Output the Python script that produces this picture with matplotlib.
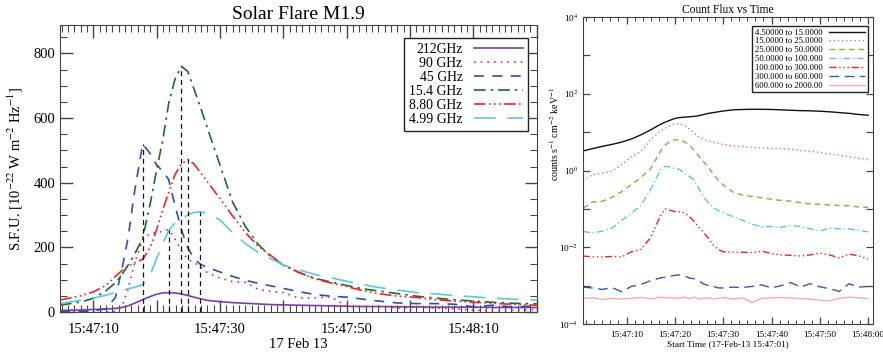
import matplotlib
matplotlib.use('Agg')
import matplotlib.pyplot as plt
from matplotlib.ticker import MultipleLocator, FuncFormatter, LogLocator, NullLocator, AutoMinorLocator
import numpy as np

plt.rcParams['font.family'] = ['Liberation Serif', 'DejaVu Serif']
plt.rcParams['mathtext.fontset'] = 'stix'

# ---- left panel: radio flux (seconds after 15:47:00) ----
t_radio = [4.75, 8, 10, 12, 13.5, 14.5, 15.5, 16.5, 17.8, 19, 20, 21, 21.9, 22.9, 23.9,
           24.9, 25.9, 26.9, 28, 30, 32, 34, 36, 38, 40, 42.5, 45, 47.5, 50, 52.5,
           55, 58, 61, 64, 67, 70, 73, 76, 80]
f212 = [5, 6, 8, 9, 11, 14, 19, 27, 38, 48, 55, 59, 60, 59, 56, 51, 46, 41, 36, 32,
        29, 27, 25, 23, 22, 21, 20, 19, 18, 17, 17, 16, 16, 15, 15, 15, 14, 14, 14]
f90 = [2, 1, 0, 0, 2, 16, 70, 150, 225, 243, 245, 250, 255, 225, 190, 163, 153, 140, 122, 105,
       94, 92, 70, 64, 60, 43, 44, 47, 18, 15, 18, 12, 15, 12, 10, 6, 3, 5, 8]
f45 = [2, 2, 3, 10, 45, 130, 230, 370, 520, 490, 455, 435, 410, 330, 255, 200, 165, 148, 138, 124,
       110, 98, 89, 81, 73, 63, 54, 49, 46, 40, 34, 28, 26, 26, 24, 16, 21, 16, 18]
f154 = [21, 31, 42, 66, 90, 115, 145, 178, 228, 336, 439, 535, 645, 720, 760, 745, 690, 635, 570, 455,
        340, 265, 210, 172, 145, 122, 104, 93, 82, 72, 65, 57, 49, 43, 38, 34, 30, 27, 25]
f880 = [37, 50, 62, 82, 110, 128, 142, 152, 163, 200, 255, 318, 370, 425, 458, 472, 458, 432, 403, 351,
        297, 246, 204, 175, 145, 122, 102, 90, 79, 66, 57, 49, 45, 38, 34, 30, 27, 24, 21]
f499 = [26, 36, 43, 52, 61, 66, 72, 76, 85, 115, 165, 212, 252, 275, 287, 300, 308, 310, 305, 285,
        245, 212, 185, 165, 146, 130, 116, 106, 95, 85, 76, 68, 60, 56, 51, 47, 43, 40, 37]
radio_labels = ['212GHz', '90 GHz', '45 GHz', '15.4 GHz', '8.80 GHz', '4.99 GHz']

# ---- right panel: count flux, log10 values (seconds after 15:47:00) ----
t_cnt = [1, 3, 5, 7, 9, 11, 13, 15, 17, 18, 19, 20, 21, 22, 23, 24, 25, 26, 27, 28, 29, 30,
         32, 34, 36, 38, 40, 42, 44, 46, 48, 50, 52, 54, 56, 58, 60]
c1 = [0.51, 0.57, 0.63, 0.68, 0.74, 0.82, 0.93, 1.06, 1.2, 1.26, 1.31, 1.355, 1.38, 1.39, 1.40, 1.41,
      1.43, 1.46, 1.49, 1.51, 1.53, 1.55, 1.58, 1.59, 1.595, 1.595, 1.59, 1.58, 1.57, 1.56, 1.555,
      1.545, 1.53, 1.51, 1.49, 1.46, 1.44]
c2 = [-0.26, -0.11, -0.07, -0.02, 0.15, 0.36, 0.5, 0.8, 1.03, 1.1, 1.17, 1.21, 1.22, 1.17, 1.08, 0.97,
      0.88, 0.81, 0.77, 0.74, 0.71, 0.68, 0.64, 0.62, 0.6, 0.585, 0.58, 0.57, 0.55, 0.52, 0.5,
      0.47, 0.43, 0.4, 0.36, 0.32, 0.28]
c3 = [-0.98, -0.82, -0.8, -0.7, -0.55, -0.37, -0.18, 0.05, 0.5, 0.66, 0.76, 0.8, 0.8, 0.75, 0.66, 0.52,
      0.37, 0.22, 0.07, -0.1, -0.25, -0.38, -0.56, -0.64, -0.68, -0.71, -0.75, -0.78, -0.8, -0.84,
      -0.87, -0.88, -0.9, -0.91, -0.92, -0.95, -0.96]
c4 = [-1.59, -1.625, -1.58, -1.5, -1.3, -1.12, -0.9, -0.5, 0.02, 0.11, 0.09, 0.05, 0.03, -0.08, -0.15,
      -0.25, -0.48, -0.7, -0.85, -0.97, -1.05, -1.1, -1.2, -1.3, -1.4, -1.47, -1.46, -1.48, -1.44,
      -1.46, -1.52, -1.58, -1.5, -1.52, -1.52, -1.56, -1.6]
c5 = [-2.23, -2.25, -2.25, -2.24, -2.25, -2.12, -2.05, -1.75, -1.18, -1.0, -1.04, -1.07, -1.08, -1.1,
      -1.2, -1.33, -1.48, -1.62, -1.78, -1.95, -2.06, -2.12, -2.13, -2.13, -2.14, -2.1, -2.17, -2.2,
      -2.21, -2.23, -2.2, -2.15, -2.2, -2.28, -2.18, -2.22, -2.31]
c6 = [-3.04, -3.06, -3.1, -3.05, -3.16, -3.02, -2.97, -2.87, -2.8, -2.78, -2.76, -2.73, -2.72, -2.75,
      -2.8, -2.82, -2.88, -2.96, -3.0, -3.02, -3.06, -3.06, -3.04, -3.05, -3.02, -2.98, -3.06, -3.0,
      -2.92, -3.04, -2.95, -3.03, -3.08, -3.15, -2.95, -3.04, -3.02]
c7 = [-3.33, -3.32, -3.36, -3.33, -3.35, -3.33, -3.31, -3.35, -3.3, -3.32, -3.31, -3.33, -3.32, -3.3,
      -3.34, -3.3, -3.35, -3.33, -3.32, -3.35, -3.33, -3.31, -3.35, -3.32, -3.44, -3.33, -3.32, -3.31,
      -3.32, -3.34, -3.35, -3.38, -3.4, -3.33, -3.3, -3.32, -3.34]
cnt_labels = ['4.50000 to 15.0000', '15.0000 to 25.0000', '25.0000 to 50.0000', '50.0000 to 100.000',
              '100.000 to 300.000', '300.000 to 600.000', '600.000 to 2000.00']

fig = plt.figure(figsize=(8.83, 3.54), dpi=100)
W, H = 883, 354
ax = fig.add_axes([60 / W, (H - 312) / H, 477 / W, 287 / H])
ax2 = fig.add_axes([583 / W, (H - 324) / H, 290 / W, 307 / H])

# left panel
radio = [f212, f90, f45, f154, f880, f499]
colors = ['#7a3fa6', '#d42f5e', '#2a52a8', '#1d6b31', '#f02525', '#5cc8dc']
styles = ['-', (0, (1, 3)), (0, (6, 5)), (0, (7, 3, 1.5, 3)), (0, (7, 2, 1, 2, 1, 2, 1, 2)), (0, (13, 7))]
for y, c, ls, lab in zip(radio, colors, styles, radio_labels):
    ax.plot(t_radio, y, color=c, ls=ls, lw=1.2, label=lab)

# dashed markers from the axis up to each peak
for y in [f45, f90, f154, f880, f499]:
    i = int(np.argmax(y))
    ax.vlines(t_radio[i], 0, y[i], colors='#111', linestyles=(0, (4, 3)), lw=0.9)

ax.set_xlim(4.75, 80.05)
ax.set_ylim(0, 888)


def fmt_left(s, pos):
    s = int(round(s))
    if s % 20 != 10:
        return ''
    return '15:%02d:%02d' % (47 + s // 60, s % 60)


ax.xaxis.set_major_locator(MultipleLocator(10))
ax.xaxis.set_minor_locator(MultipleLocator(1))
ax.xaxis.set_major_formatter(FuncFormatter(fmt_left))
ax.yaxis.set_major_locator(MultipleLocator(200))
ax.yaxis.set_minor_locator(MultipleLocator(50))
ax.tick_params(which='both', direction='in', top=True, right=True, labelsize=10.5, color='#444')
ax.tick_params(which='major', length=9, width=1)
ax.tick_params(which='minor', length=5, width=0.8)
ax.tick_params(axis='x', pad=8)
for sp in ax.spines.values():
    sp.set_color('#444')
ax.set_title('Solar Flare M1.9', fontsize=14, pad=4)
ax.set_xlabel('17 Feb 13', fontsize=10.5, labelpad=1)
ax.set_ylabel(r'S.F.U. [10$^{-22}$ W m$^{-2}$ Hz$^{-1}$]', fontsize=10.5, labelpad=6)
leg = ax.legend(loc='upper right', bbox_to_anchor=(0.981, 0.955), borderaxespad=0,
                markerfirst=False, fontsize=9.9, handlelength=3.6, labelspacing=0.08,
                fancybox=False, framealpha=1, edgecolor='#222', borderpad=0.35, handletextpad=0.8)
leg.get_frame().set_linewidth(1)

# right panel
cnts = [c1, c2, c3, c4, c5, c6, c7]
colors2 = ['#111111', '#d765c6', '#6dbf3c', '#5cc8dc', '#ee2222', '#3858a8', '#f7a9b8']
styles2 = ['-', (0, (1, 2)), (0, (4, 3)), (0, (5, 2, 1, 2)), (0, (5, 2, 1, 2, 1, 2, 1, 2)),
           (0, (7, 4)), '-']
for y, c, ls, lab in zip(cnts, colors2, styles2, cnt_labels):
    ax2.plot(t_cnt, 10 ** np.array(y), color=c, ls=ls, lw=1.0, label=lab)

ax2.set_yscale('log')
ax2.set_xlim(1, 61)
ax2.set_ylim(1e-4, 1e4)


def fmt_right(s, pos):
    s = int(round(s))
    if s % 10 != 0 or s == 0:
        return ''
    return '15:%02d:%02d' % (47 + s // 60, s % 60)


def fmt_log(v, pos):
    e = int(round(np.log10(v)))
    if e % 2:
        return ''
    return r'10$^{%d}$' % e


ax2.xaxis.set_major_locator(MultipleLocator(10))
ax2.xaxis.set_minor_locator(AutoMinorLocator(6))
ax2.xaxis.set_major_formatter(FuncFormatter(fmt_right))
ax2.yaxis.set_major_locator(LogLocator(base=10, numticks=20))
ax2.yaxis.set_minor_locator(NullLocator())
ax2.yaxis.set_major_formatter(FuncFormatter(fmt_log))
ax2.tick_params(which='both', direction='in', top=True, right=True, labelsize=6.7, color='#444')
ax2.tick_params(which='major', length=5, width=0.9)
ax2.tick_params(which='minor', length=3, width=0.7)
ax2.tick_params(axis='x', pad=5)
for sp in ax2.spines.values():
    sp.set_color('#444')
ax2.set_title('Count Flux vs Time', fontsize=8.3, pad=3)
ax2.set_xlabel('Start Time (17-Feb-13 15:47:01)', fontsize=6.7, labelpad=1)
ax2.set_ylabel(r'counts s$^{-1}$ cm$^{-2}$ keV$^{-1}$', fontsize=7.2)
ax2.yaxis.set_label_coords(-0.075, 0.62)
leg2 = ax2.legend(loc='upper right', bbox_to_anchor=(0.983, 0.971), borderaxespad=0,
                  markerfirst=False, fontsize=6.2, handlelength=4.2, labelspacing=0.1,
                  fancybox=False, framealpha=1, edgecolor='#222', borderpad=0.3, handletextpad=0.8)
leg2.get_frame().set_linewidth(1)

fig.savefig('out.png', dpi=100)
